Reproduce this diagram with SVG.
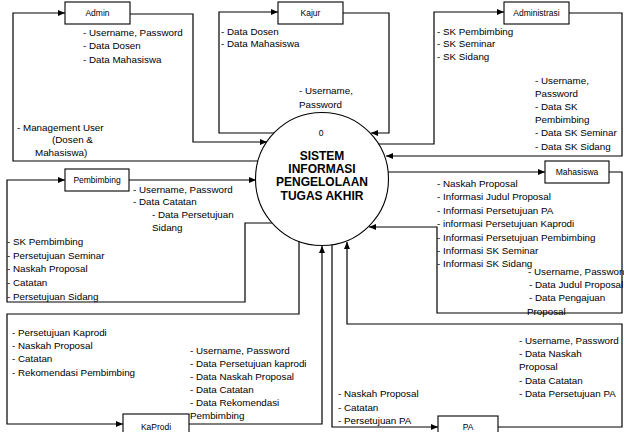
<svg xmlns="http://www.w3.org/2000/svg" width="624" height="432" viewBox="0 0 624 432">
<style>
.box{fill:#fff;stroke:#000;stroke-width:1.1}
.bl{font-family:"Liberation Sans",Arial,sans-serif;font-size:8.5px;fill:#000;text-anchor:middle}
.t{font-family:"Liberation Sans",Arial,sans-serif;font-size:9.8px;fill:#000}
.c{fill:none;stroke:#000;stroke-width:1.2}
.title{font-family:"Liberation Sans",Arial,sans-serif;font-size:12px;font-weight:bold;fill:#000;text-anchor:middle}
</style>
<defs>
<marker id="ah" markerWidth="7" markerHeight="6" refX="7" refY="3" orient="auto" markerUnits="userSpaceOnUse">
<path d="M0,0 L7,3 L0,6 z" fill="#000"/>
</marker>
</defs>
<rect width="624" height="432" fill="#fff"/>
<g id="connectors">
<path class="c" d="M258,161 H13 V13 H65" marker-end="url(#ah)"/>
<path class="c" d="M130,14 H193 V142 H267" marker-end="url(#ah)"/>
<path class="c" d="M274,133 H219 V12 H278" marker-end="url(#ah)"/>
<path class="c" d="M343,13 H389 V133 H371" marker-end="url(#ah)"/>
<path class="c" d="M378,144 H434 V12 H504" marker-end="url(#ah)"/>
<path class="c" d="M569,13 H622 V156 H386" marker-end="url(#ah)"/>
<path class="c" d="M388,172 H545" marker-end="url(#ah)"/>
<path class="c" d="M609,172 H622 V313 H437 V227 H369" marker-end="url(#ah)"/>
<path class="c" d="M129,180 H256" marker-end="url(#ah)"/>
<path class="c" d="M272,223 H245 V302 H7 V180 H65" marker-end="url(#ah)"/>
<path class="c" d="M299,241 V314 H7 V424 H123" marker-end="url(#ah)"/>
<path class="c" d="M189,424 H322 V246" marker-end="url(#ah)"/>
<path class="c" d="M332,245 V427 H438" marker-end="url(#ah)"/>
<path class="c" d="M498,427 H622 V324 H347 V242" marker-end="url(#ah)"/>
</g>
<g id="process">
<circle cx="322" cy="179" r="66.5" fill="#fff" stroke="#000" stroke-width="1.1"/>
<text class="bl" x="321" y="136" font-size="9">0</text>
<text class="title" x="322" y="159.5">SISTEM</text>
<text class="title" x="322" y="172.5">INFORMASI</text>
<text class="title" x="322" y="186">PENGELOLAAN</text>
<text class="title" x="322" y="199.5">TUGAS AKHIR</text>
</g>
<g id="admin">
<rect class="box" x="65" y="2" width="65" height="22"/>
<text class="bl" x="97.5" y="16">Admin</text>
</g>
<g id="kajur">
<rect class="box" x="278" y="2" width="65" height="22"/>
<text class="bl" x="310.5" y="16">Kajur</text>
</g>
<g id="administrasi">
<rect class="box" x="504" y="2" width="65" height="22"/>
<text class="bl" x="536.5" y="16">Administrasi</text>
</g>
<g id="mahasiswa">
<rect class="box" x="545" y="161" width="64" height="22"/>
<text class="bl" x="577" y="175">Mahasiswa</text>
</g>
<g id="pembimbing">
<rect class="box" x="65" y="169" width="64" height="22"/>
<text class="bl" x="97" y="183">Pembimbing</text>
</g>
<g id="kaprodi">
<rect class="box" x="123" y="414" width="66" height="24"/>
<text class="bl" x="156" y="430">KaProdi</text>
</g>
<g id="pa">
<rect class="box" x="438" y="416" width="60" height="24"/>
<text class="bl" x="468" y="430">PA</text>
</g>
<g id="labels" xml:space="preserve">
<text class="t" x="83" y="36">- Username, Password</text>
<text class="t" x="83" y="49">- Data Dosen</text>
<text class="t" x="83" y="62.5">- Data Mahasiswa</text>
<text class="t" x="17" y="130.5">- Management User</text>
<text class="t" x="52" y="142.5">(Dosen &amp;</text>
<text class="t" x="35" y="155.5">Mahasiswa)</text>
<text class="t" x="221" y="35">- Data Dosen</text>
<text class="t" x="221" y="47">-  Data Mahasiswa</text>
<text class="t" x="299" y="93.5">- Username,</text>
<text class="t" x="299" y="107.5">Password</text>
<text class="t" x="437" y="35">- SK Pembimbing</text>
<text class="t" x="437" y="47">- SK Seminar</text>
<text class="t" x="437" y="60">- SK Sidang</text>
<text class="t" x="535" y="83.5">- Username,</text>
<text class="t" x="535" y="96.5">Password</text>
<text class="t" x="535" y="110">- Data SK</text>
<text class="t" x="535" y="123">Pembimbing</text>
<text class="t" x="535" y="136">- Data SK Seminar</text>
<text class="t" x="535" y="149.5">- Data SK Sidang</text>
<text class="t" x="437" y="187">- Naskah Proposal</text>
<text class="t" x="437" y="200">- Informasi Judul Proposal</text>
<text class="t" x="437" y="214">- Informasi Persetujuan PA</text>
<text class="t" x="437" y="227">- informasi Persetujuan Kaprodi</text>
<text class="t" x="437" y="240.5">- Informasi Persetujuan Pembimbing</text>
<text class="t" x="437" y="253.5">- Informasi SK Seminar</text>
<text class="t" x="437" y="267">- Informasi SK Sidang</text>
<text class="t" x="528" y="275">- Username, Password</text>
<text class="t" x="529" y="288">- Data Judul Proposal</text>
<text class="t" x="529" y="300.5">- Data Pengajuan</text>
<text class="t" x="527" y="314.5">Proposal</text>
<text class="t" x="133" y="193">- Username, Password</text>
<text class="t" x="133" y="204.5">- Data Catatan</text>
<text class="t" x="152" y="217.5">- Data Persetujuan</text>
<text class="t" x="152" y="231">Sidang</text>
<text class="t" x="7" y="245">- SK Pembimbing</text>
<text class="t" x="7" y="258.5">- Persetujuan Seminar</text>
<text class="t" x="7" y="272">- Naskah Proposal</text>
<text class="t" x="7" y="286">- Catatan</text>
<text class="t" x="7" y="299.5">- Persetujuan Sidang</text>
<text class="t" x="12" y="336">- Persetujuan Kaprodi</text>
<text class="t" x="12" y="348.5">- Naskah Proposal</text>
<text class="t" x="12" y="362">- Catatan</text>
<text class="t" x="12" y="376">- Rekomendasi Pembimbing</text>
<text class="t" x="190" y="353.5">- Username, Password</text>
<text class="t" x="190" y="366.5">- Data Persetujuan kaprodi</text>
<text class="t" x="190" y="379.5">- Data Naskah Proposal</text>
<text class="t" x="190" y="392.5">- Data Catatan</text>
<text class="t" x="190" y="405.5">- Data Rekomendasi</text>
<text class="t" x="190" y="418.5">Pembimbing</text>
<text class="t" x="519" y="343.5">- Username, Password</text>
<text class="t" x="519" y="356.5">- Data Naskah</text>
<text class="t" x="519" y="370">Proposal</text>
<text class="t" x="519" y="383.5">- Data Catatan</text>
<text class="t" x="519" y="396.5">- Data Persetujuan PA</text>
<text class="t" x="338" y="397">- Naskah Proposal</text>
<text class="t" x="338" y="410.5">- Catatan</text>
<text class="t" x="338" y="423.5">- Persetujuan PA</text>
</g>
</svg>
